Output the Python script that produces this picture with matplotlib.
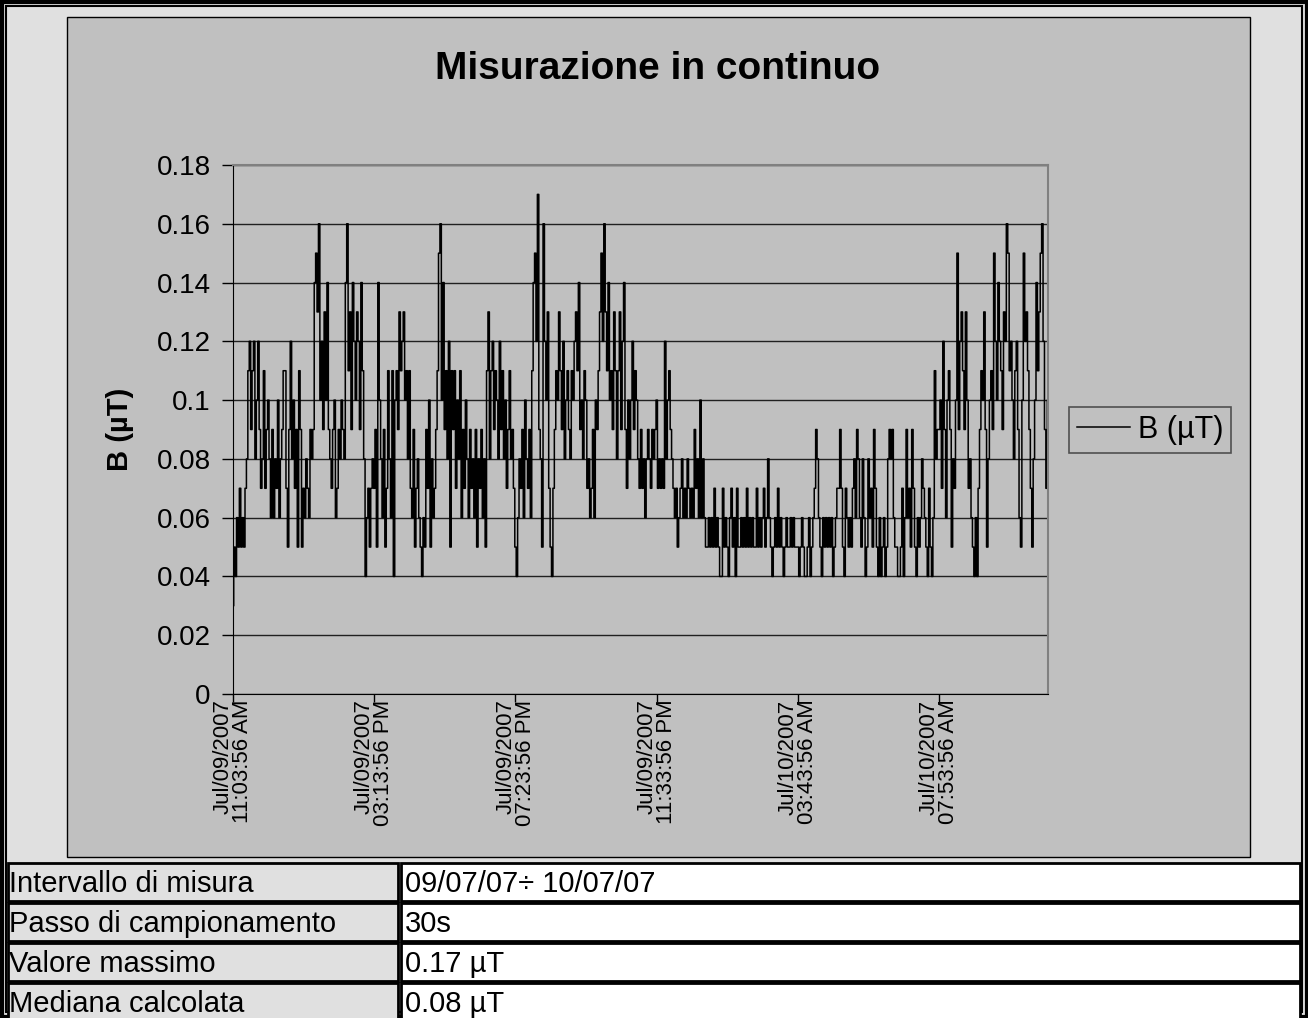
import numpy as np
import matplotlib.pyplot as plt
from matplotlib.patches import Rectangle

plt.rcParams['font.family'] = ['Liberation Sans', 'DejaVu Sans']

# valori, in centesimi di µT, un punto ogni 5 campioni (2.5 min)
seg_1103 = [
    3, 5, 4, 6, 5, 7, 5, 6, 5, 7,
    8, 11, 12, 9, 11, 12, 8, 10, 12, 9,
    7, 8, 11, 7, 9, 10, 8, 6, 9, 6,
    8, 7, 10, 6, 8, 9, 11, 11, 7, 5,
    9, 12, 8, 10, 7, 9, 5, 11, 9, 5,
    7, 6, 8, 7, 6, 9, 8, 9, 14, 15,
    13, 16, 10, 12, 9, 13, 10, 14, 9, 8,
    7, 9, 10, 6, 7, 9, 8, 10, 9, 8,
    14, 16, 11, 13, 9, 14, 12, 10, 13, 12,
    9, 14, 11, 8, 4, 6, 7, 5, 7, 8,
]
seg_1513 = [
    7, 9, 5, 14, 10, 8, 6, 9, 5, 7,
    11, 8, 6, 11, 4, 10, 11, 9, 13, 11,
    12, 13, 10, 11, 8, 11, 7, 6, 9, 5,
    7, 8, 6, 5, 4, 6, 5, 9, 7, 10,
    5, 8, 6, 7, 9, 11, 15, 16, 10, 14,
    9, 11, 8, 12, 5, 11, 9, 11, 7, 10,
    8, 11, 6, 9, 7, 10, 8, 6, 9, 7,
    8, 6, 9, 5, 8, 7, 9, 6, 8, 5,
    11, 13, 8, 11, 12, 9, 11, 10, 8, 12,
    9, 11, 8, 10, 7, 9, 11, 8, 9, 7,
]
seg_1923 = [
    5, 4, 6, 8, 7, 9, 6, 10, 8, 7,
    9, 6, 11, 14, 15, 12, 17, 9, 8, 5,
    16, 12, 10, 13, 7, 5, 4, 7, 9, 11,
    10, 13, 11, 9, 12, 8, 10, 11, 9, 8,
    11, 10, 12, 13, 11, 14, 9, 10, 8, 11,
    10, 7, 8, 6, 7, 9, 6, 10, 9, 11,
    13, 15, 12, 16, 13, 11, 14, 10, 11, 9,
    13, 11, 8, 11, 13, 9, 12, 14, 9, 7,
    10, 8, 10, 12, 9, 11, 10, 8, 7, 9,
    7, 8, 6, 8, 9, 8, 7, 9, 8, 9,
]
seg_2333 = [
    10, 7, 8, 7, 8, 7, 12, 8, 10, 11,
    9, 8, 7, 6, 7, 5, 6, 7, 8, 6,
    7, 6, 8, 7, 6, 7, 6, 9, 7, 8,
    6, 10, 6, 8, 6, 5, 5, 6, 5, 6,
    5, 7, 5, 6, 5, 4, 4, 7, 5, 6,
    5, 4, 6, 7, 5, 6, 4, 7, 5, 5,
    6, 5, 6, 5, 7, 5, 6, 5, 6, 5,
    5, 7, 5, 6, 5, 6, 7, 5, 6, 8,
    6, 5, 4, 5, 6, 5, 7, 5, 6, 5,
    4, 5, 6, 5, 5, 6, 5, 6, 5, 5,
]
seg_0343 = [
    5, 4, 5, 6, 5, 4, 4, 5, 6, 4,
    5, 6, 7, 9, 8, 6, 5, 4, 6, 5,
    6, 5, 6, 5, 6, 4, 5, 6, 7, 7,
    9, 7, 5, 4, 7, 6, 5, 6, 5, 7,
    8, 6, 9, 8, 6, 5, 8, 6, 4, 5,
    8, 6, 7, 5, 9, 7, 5, 4, 6, 4,
    5, 6, 4, 5, 8, 9, 8, 9, 6, 5,
    5, 4, 4, 5, 7, 4, 6, 9, 6, 7,
    5, 9, 7, 5, 4, 6, 5, 6, 8, 7,
    6, 5, 4, 7, 5, 4, 6, 11, 8, 9,
]
seg_0753 = [
    9, 10, 7, 12, 9, 6, 10, 11, 9, 5,
    8, 7, 10, 15, 9, 12, 13, 11, 9, 13,
    10, 7, 8, 6, 5, 4, 6, 4, 7, 9,
    11, 10, 13, 9, 5, 8, 10, 11, 9, 15,
    12, 10, 14, 12, 11, 9, 13, 12, 16, 15,
    11, 12, 10, 8, 11, 12, 9, 6, 5, 10,
    15, 12, 13, 11, 9, 7, 5, 8, 10, 14,
    11, 13, 15, 16, 12, 9, 7, 10,
]

tick_labels = [
    'Jul/09/2007\n11:03:56 AM',
    'Jul/09/2007\n03:13:56 PM',
    'Jul/09/2007\n07:23:56 PM',
    'Jul/09/2007\n11:33:56 PM',
    'Jul/10/2007\n03:43:56 AM',
    'Jul/10/2007\n07:53:56 AM',
]
y_ticks = [0, 0.02, 0.04, 0.06, 0.08, 0.1, 0.12, 0.14, 0.16, 0.18]

table_rows = [
    ('Intervallo di misura', '09/07/07÷ 10/07/07'),
    ('Passo di campionamento', '30s'),
    ('Valore massimo', '0.17 µT'),
    ('Mediana calcolata', '0.08 µT'),
]

values = np.array(seg_1103 + seg_1513 + seg_1923 + seg_2333 + seg_0343 + seg_0753) / 100.0
step = 5  # campioni da 30 s per punto
samples = np.arange(len(values)) * step

W, H = 1308, 1018
fig = plt.figure(figsize=(W / 100, H / 100), dpi=100)
fig.patch.set_facecolor('#e0e0e0')


def rect(x0, y0, x1, y1, **kw):
    # coordinate in pixel, origine in alto a sinistra
    r = Rectangle((x0 / W, 1 - y1 / H), (x1 - x0) / W, (y1 - y0) / H,
                  transform=fig.transFigure, **kw)
    fig.patches.append(r)
    return r


# cornice doppia esterna
rect(1.5, 1.5, W - 1.5, H - 1.5, fill=False, ec='black', lw=3)
rect(6, 6, W - 6, H - 6, fill=False, ec='black', lw=1.5)

# area del grafico (sotto gli assi)
rect(67, 17, 1250, 857, fc='#c0c0c0', ec='black', lw=1, zorder=-5)

ax = fig.add_axes([233 / W, 1 - 694 / H, 815 / W, (694 - 165) / H])
ax.set_zorder(2)
ax.set_facecolor('#c0c0c0')
ax.plot(samples, values, color='black', lw=1.1, drawstyle='steps-mid',
        label='B (µT)')

ax.set_ylim(0, 0.18)
ax.set_xlim(0, samples[-1])
ax.set_yticks(y_ticks)
ax.set_yticklabels([f'{v:g}' for v in y_ticks], fontsize=20)
ax.set_xticks(np.arange(len(tick_labels)) * 500)
ax.set_xticklabels(tick_labels, rotation=90, fontsize=16, va='top', ha='center',
                   multialignment='right', linespacing=0.9)
ax.tick_params(axis='y', length=8, width=1, pad=8, direction='out')
ax.tick_params(axis='x', length=6, width=1, pad=-2, direction='out')
ax.yaxis.grid(True, color='#202020', lw=1)
ax.set_axisbelow(True)
for s in ('top', 'right'):
    ax.spines[s].set_color('#808080')
    ax.spines[s].set_linewidth(1.5)
ax.spines['left'].set_color('black')
ax.spines['bottom'].set_color('black')

ax.set_ylabel('B (µT)', fontsize=21, fontweight='bold', labelpad=16)
fig.text(658 / W, 1 - 69 / H, 'Misurazione in continuo', fontsize=28,
         fontweight='bold', ha='center', va='center')

leg = fig.legend(loc='center left', bbox_to_anchor=(1069 / W, 1 - 430 / H),
                 fontsize=22, frameon=True, fancybox=False, framealpha=1,
                 facecolor='#c0c0c0', edgecolor='#505050', handlelength=1.75,
                 handletextpad=0.25, borderpad=0.25, borderaxespad=0)
leg.get_frame().set_linewidth(1.2)
for h in leg.legend_handles:
    h.set_drawstyle('default')

# tabella riassuntiva
row_tops = [863, 903, 943, 983]
row_h = 38
for (label, val), top in zip(table_rows, row_tops):
    rect(8, top, 398, top + row_h, fc='#e0e0e0', ec='black', lw=2)
    rect(401, top, W - 8, top + row_h, fc='white', ec='black', lw=2)
    fig.text(9 / W, 1 - (top + row_h / 2 + 2) / H, label, fontsize=21,
             ha='left', va='center')
    fig.text(405 / W, 1 - (top + row_h / 2 + 2) / H, val, fontsize=21,
             ha='left', va='center')

fig.savefig('out.png', dpi=100, facecolor=fig.get_facecolor())
